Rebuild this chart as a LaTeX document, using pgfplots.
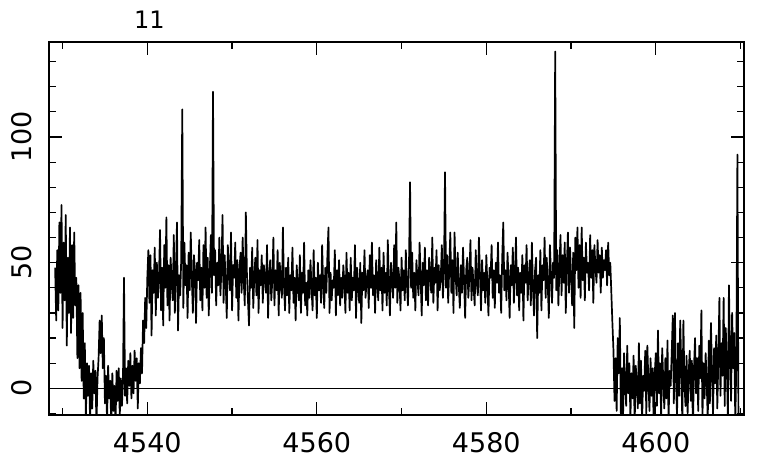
\documentclass[border=0pt]{standalone}
\usepackage{fontspec}
\setmainfont{DejaVu Sans}
\usepackage{pgfplots}
\pgfplotsset{compat=1.18}
\begin{document}
\begin{tikzpicture}
\path[use as bounding box] (-24.5pt,-25pt) rectangle (361.5pt,207.5pt);
\begin{axis}[
  at={(0,0)}, anchor=south west,
  width=347.5pt, height=186.5pt, scale only axis,
  xmin=4528.4, xmax=4610.4, ymin=-10.6, ymax=137.8,
  xtick={4540,4560,4580,4600},
  minor xtick={4530,4550,4570,4590,4610},
  ytick={0,50,100},
  minor ytick={-10,10,20,30,40,60,70,80,90,110,120,130},
  xtick pos=both, ytick pos=both,
  tick align=inside,
  major tick length=6.5pt, minor tick length=3.5pt,
  every tick/.style={black, line width=0.6pt},
  axis line style={line width=0.65pt},
  /pgf/number format/.cd, 1000 sep={}, assume math mode=true, /pgfplots/.cd,
  tick label style={font=\fontsize{13.5}{16}\selectfont, inner sep=0pt},
  xticklabel style={anchor=north},
  xticklabel shift=8.5pt,
  yticklabel style={rotate=90, anchor=south},
  yticklabel shift=8.5pt,
  clip=true,
]
\addplot[black, line width=0.65pt] coordinates {(4528.4,0) (4610.4,0)};
\addplot[black, line width=0.85pt, line join=round, mark=none] coordinates {
(4529.125,48)(4529.25,27)(4529.375,55)(4529.5,31)(4529.625,66)(4529.75,38)(4529.875,73)
(4530,24)(4530.125,58)(4530.25,35)(4530.375,69)(4530.5,17)(4530.625,52)(4530.75,30)(4530.875,64)
(4531,22)(4531.125,57)(4531.25,28)(4531.375,62)(4531.5,33)(4531.625,44)(4531.75,12)(4531.875,41)
(4532,8)(4532.125,38)(4532.25,3)(4532.375,30)(4532.5,-4)(4532.625,18)(4532.75,-12)(4532.875,10)
(4533,-3)(4533.125,9)(4533.25,-14)(4533.375,6)(4533.5,-8)(4533.625,11)(4533.75,-2)(4533.875,7)
(4534,-15)(4534.125,4)(4534.25,12)(4534.375,27)(4534.5,14)(4534.625,29)(4534.75,8)(4534.875,20)
(4535,-6)(4535.125,5)(4535.25,-13)(4535.375,9)(4535.5,-4)(4535.625,3)(4535.75,-16)(4535.875,6)
(4536,-9)(4536.125,1)(4536.25,-14)(4536.375,7)(4536.5,-5)(4536.625,8)(4536.75,-11)(4536.875,4)
(4537,-7)(4537.125,2)(4537.25,44)(4537.375,-3)(4537.5,8)(4537.625,-6)(4537.75,11)(4537.875,1)
(4538,14)(4538.125,-4)(4538.25,9)(4538.375,-2)(4538.5,15)(4538.625,3)(4538.75,12)(4538.875,-8)
(4539,10)(4539.125,2)(4539.25,16)(4539.375,6)(4539.5,27)(4539.625,18)(4539.75,36)(4539.875,24)
(4540,44)(4540.125,55)(4540.25,34)(4540.375,53)(4540.5,21)(4540.625,47)(4540.75,38)(4540.875,56)
(4541,29)(4541.125,50)(4541.25,36)(4541.375,44)(4541.5,63)(4541.625,31)(4541.75,48)(4541.875,25)
(4542,57)(4542.125,40)(4542.25,68)(4542.375,33)(4542.5,49)(4542.625,27)(4542.75,52)(4542.875,42)
(4543,35)(4543.125,61)(4543.25,30)(4543.375,46)(4543.5,66)(4543.625,23)(4543.75,45)(4543.875,37)
(4544,51)(4544.125,111)(4544.25,32)(4544.375,58)(4544.5,41)(4544.625,49)(4544.75,28)(4544.875,54)
(4545,39)(4545.125,62)(4545.25,44)(4545.375,30)(4545.5,53)(4545.625,47)(4545.75,26)(4545.875,50)
(4546,43)(4546.125,59)(4546.25,35)(4546.375,48)(4546.5,31)(4546.625,57)(4546.75,40)(4546.875,64)
(4547,36)(4547.125,52)(4547.25,29)(4547.375,47)(4547.5,61)(4547.625,38)(4547.75,118)(4547.875,45)
(4548,55)(4548.125,33)(4548.25,50)(4548.375,41)(4548.5,60)(4548.625,37)(4548.75,48)(4548.875,69)
(4549,34)(4549.125,53)(4549.25,42)(4549.375,28)(4549.5,57)(4549.625,46)(4549.75,39)(4549.875,62)
(4550,31)(4550.125,49)(4550.25,44)(4550.375,58)(4550.5,36)(4550.625,51)(4550.75,27)(4550.875,47)
(4551,54)(4551.125,38)(4551.25,60)(4551.375,43)(4551.5,33)(4551.625,70)(4551.75,46)(4551.875,35)
(4552,25)(4552.125,48)(4552.25,40)(4552.375,56)(4552.5,32)(4552.625,45)(4552.75,52)(4552.875,37)
(4553,59)(4553.125,30)(4553.25,47)(4553.375,41)(4553.5,53)(4553.625,34)(4553.75,49)(4553.875,44)
(4554,38)(4554.125,57)(4554.25,28)(4554.375,46)(4554.5,51)(4554.625,35)(4554.75,43)(4554.875,60)
(4555,33)(4555.125,47)(4555.25,39)(4555.375,55)(4555.5,29)(4555.625,50)(4555.75,42)(4555.875,36)
(4556,64)(4556.125,41)(4556.25,31)(4556.375,48)(4556.5,37)(4556.625,52)(4556.75,30)(4556.875,45)
(4557,39)(4557.125,56)(4557.25,34)(4557.375,44)(4557.5,27)(4557.625,49)(4557.75,41)(4557.875,35)
(4558,53)(4558.125,30)(4558.25,46)(4558.375,38)(4558.5,58)(4558.625,33)(4558.75,42)(4558.875,29)
(4559,47)(4559.125,36)(4559.25,51)(4559.375,40)(4559.5,31)(4559.625,55)(4559.75,37)(4559.875,44)
(4560,28)(4560.125,50)(4560.25,39)(4560.375,45)(4560.5,34)(4560.625,57)(4560.75,41)(4560.875,32)
(4561,48)(4561.125,38)(4561.25,53)(4561.375,64)(4561.5,30)(4561.625,46)(4561.75,35)(4561.875,43)
(4562,40)(4562.125,55)(4562.25,29)(4562.375,47)(4562.5,37)(4562.625,51)(4562.75,33)(4562.875,44)
(4563,36)(4563.125,49)(4563.25,42)(4563.375,30)(4563.5,54)(4563.625,38)(4563.75,46)(4563.875,31)
(4564,52)(4564.125,35)(4564.25,44)(4564.375,39)(4564.5,57)(4564.625,28)(4564.75,48)(4564.875,41)
(4565,34)(4565.125,50)(4565.25,26)(4565.375,46)(4565.5,39)(4565.625,55)(4565.75,36)(4565.875,43)
(4566,47)(4566.125,32)(4566.25,53)(4566.375,40)(4566.5,58)(4566.625,37)(4566.75,45)(4566.875,30)
(4567,51)(4567.125,42)(4567.25,35)(4567.375,56)(4567.5,39)(4567.625,48)(4567.75,31)(4567.875,54)
(4568,38)(4568.125,46)(4568.25,33)(4568.375,59)(4568.5,41)(4568.625,29)(4568.75,50)(4568.875,44)
(4569,36)(4569.125,57)(4569.25,40)(4569.375,66)(4569.5,34)(4569.625,48)(4569.75,43)(4569.875,31)
(4570,52)(4570.125,39)(4570.25,47)(4570.375,35)(4570.5,55)(4570.625,42)(4570.75,33)(4570.875,49)
(4571,82)(4571.125,40)(4571.25,54)(4571.375,36)(4571.5,46)(4571.625,31)(4571.75,51)(4571.875,43)
(4572,37)(4572.125,58)(4572.25,44)(4572.375,29)(4572.5,50)(4572.625,41)(4572.75,56)(4572.875,35)
(4573,47)(4573.125,33)(4573.25,52)(4573.375,45)(4573.5,38)(4573.625,60)(4573.75,34)(4573.875,48)
(4574,42)(4574.125,55)(4574.25,31)(4574.375,49)(4574.5,39)(4574.625,44)(4574.75,57)(4574.875,36)
(4575,46)(4575.125,86)(4575.25,40)(4575.375,53)(4575.5,34)(4575.625,48)(4575.75,62)(4575.875,38)
(4576,51)(4576.125,30)(4576.25,62)(4576.375,45)(4576.5,37)(4576.625,54)(4576.75,41)(4576.875,32)
(4577,49)(4577.125,38)(4577.25,56)(4577.375,43)(4577.5,28)(4577.625,47)(4577.75,52)(4577.875,36)
(4578,44)(4578.125,59)(4578.25,35)(4578.375,48)(4578.5,40)(4578.625,33)(4578.75,55)(4578.875,42)
(4579,37)(4579.125,60)(4579.25,45)(4579.375,31)(4579.5,51)(4579.625,39)(4579.75,46)(4579.875,34)
(4580,53)(4580.125,41)(4580.25,29)(4580.375,48)(4580.5,44)(4580.625,57)(4580.75,36)(4580.875,47)
(4581,32)(4581.125,50)(4581.25,42)(4581.375,58)(4581.5,38)(4581.625,45)(4581.75,30)(4581.875,52)
(4582,66)(4582.125,39)(4582.25,47)(4582.375,35)(4582.5,54)(4582.625,43)(4582.75,28)(4582.875,49)
(4583,41)(4583.125,56)(4583.25,34)(4583.375,45)(4583.5,60)(4583.625,37)(4583.75,48)(4583.875,31)
(4584,46)(4584.125,38)(4584.25,53)(4584.375,27)(4584.5,49)(4584.625,42)(4584.75,57)(4584.875,35)
(4585,44)(4585.125,51)(4585.25,33)(4585.375,58)(4585.5,40)(4585.625,29)(4585.75,47)(4585.875,52)
(4586,20)(4586.125,45)(4586.25,38)(4586.375,55)(4586.5,31)(4586.625,49)(4586.75,43)(4586.875,60)
(4587,36)(4587.125,52)(4587.25,41)(4587.375,28)(4587.5,57)(4587.625,46)(4587.75,34)(4587.875,50)
(4588,44)(4588.125,134)(4588.25,39)(4588.375,55)(4588.5,33)(4588.625,48)(4588.75,61)(4588.875,37)
(4589,53)(4589.125,42)(4589.25,58)(4589.375,30)(4589.5,49)(4589.625,62)(4589.75,38)(4589.875,56)
(4590,45)(4590.125,33)(4590.25,54)(4590.375,24)(4590.5,60)(4590.625,47)(4590.75,64)(4590.875,40)
(4591,57)(4591.125,36)(4591.25,64)(4591.375,43)(4591.5,52)(4591.625,35)(4591.75,58)(4591.875,46)
(4592,50)(4592.125,39)(4592.25,61)(4592.375,44)(4592.5,55)(4592.625,34)(4592.75,57)(4592.875,48)
(4593,42)(4593.125,59)(4593.25,46)(4593.375,53)(4593.5,38)(4593.625,56)(4593.75,44)(4593.875,51)
(4594,47)(4594.125,55)(4594.25,41)(4594.375,58)(4594.5,45)(4594.625,50)(4594.75,38)(4594.875,26)
(4595,15)(4595.125,-5)(4595.25,12)(4595.375,-9)(4595.5,20)(4595.625,6)(4595.75,28)(4595.875,-11)
(4596,8)(4596.125,-13)(4596.25,14)(4596.375,1)(4596.5,-7)(4596.625,17)(4596.75,-2)(4596.875,10)
(4597,-12)(4597.125,6)(4597.25,-4)(4597.375,13)(4597.5,-15)(4597.625,9)(4597.75,3)(4597.875,-8)
(4598,18)(4598.125,-6)(4598.25,11)(4598.375,-14)(4598.5,5)(4598.625,-1)(4598.75,15)(4598.875,-10)
(4599,17)(4599.125,2)(4599.25,-9)(4599.375,12)(4599.5,-3)(4599.625,8)(4599.75,-16)(4599.875,6)
(4600,14)(4600.125,-7)(4600.25,23)(4600.375,-2)(4600.5,10)(4600.625,-12)(4600.75,16)(4600.875,3)
(4601,-8)(4601.125,12)(4601.25,-4)(4601.375,19)(4601.5,-13)(4601.625,7)(4601.75,1)(4601.875,14)
(4602,29)(4602.125,-6)(4602.25,30)(4602.375,4)(4602.5,-11)(4602.625,18)(4602.75,-3)(4602.875,27)
(4603,9)(4603.125,-14)(4603.25,27)(4603.375,2)(4603.5,-7)(4603.625,13)(4603.75,-10)(4603.875,6)
(4604,15)(4604.125,-5)(4604.25,11)(4604.375,-16)(4604.5,8)(4604.625,20)(4604.75,-2)(4604.875,12)
(4605,-9)(4605.125,17)(4605.25,4)(4605.375,31)(4605.5,-12)(4605.625,10)(4605.75,-4)(4605.875,14)
(4606,3)(4606.125,-13)(4606.25,19)(4606.375,-6)(4606.5,26)(4606.625,7)(4606.75,-11)(4606.875,16)
(4607,2)(4607.125,21)(4607.25,-8)(4607.375,12)(4607.5,36)(4607.625,-3)(4607.75,18)(4607.875,5)
(4608,36)(4608.125,-7)(4608.25,24)(4608.375,9)(4608.5,-12)(4608.625,41)(4608.75,14)(4608.875,-5)
(4609,30)(4609.125,8)(4609.25,22)(4609.375,-14)(4609.5,12)(4609.625,93)(4609.75,-15)(4609.875,-18)
(4610,-14)(4610.125,-16)(4610.25,-20)
};
\end{axis}
\node[font=\fontsize{12}{14}\selectfont, inner sep=0pt] at (50.25pt,197.75pt) {11};
\end{tikzpicture}
\end{document}
